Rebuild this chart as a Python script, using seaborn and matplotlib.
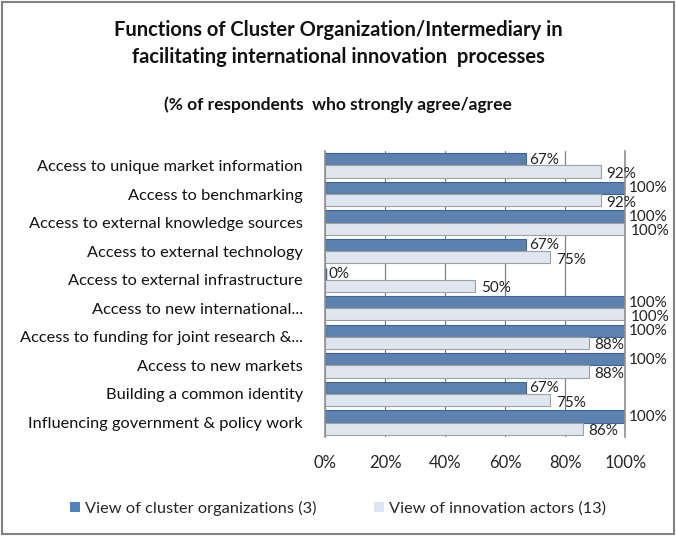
import matplotlib
matplotlib.use("Agg")
import matplotlib.pyplot as plt
import pandas as pd
import numpy as np
import seaborn as sns

# chart data
categories = ['Access to unique market information', 'Access to benchmarking',
              'Access to external knowledge sources', 'Access to external technology',
              'Access to external infrastructure', 'Access to new international...',
              'Access to funding for joint research &...', 'Access to new markets',
              'Building a common identity', 'Influencing government & policy work']
cluster_orgs = [67, 100, 100, 67, 0, 100, 100, 100, 67, 100]
innovation_actors = [92, 92, 100, 75, 50, 100, 88, 88, 75, 86]
series_names = ['View of cluster organizations (3)', 'View of innovation actors (13)']
x_ticks = [0, 20, 40, 60, 80, 100]

df = pd.DataFrame({'Function': categories * 2,
                   'Value': cluster_orgs + innovation_actors,
                   'Series': [series_names[0]] * len(categories) + [series_names[1]] * len(categories)})

sns.set_style("white")
plt.rcParams['font.family'] = ['Lato', 'DejaVu Sans']

fig = plt.figure(figsize=(6.76, 5.36), dpi=100)
ax = fig.add_axes([0.481, 0.185, 0.444, 0.533])

dark = '#4F81BD'
light = '#DCE6F2'
sns.barplot(data=df, y='Function', x='Value', hue='Series', order=categories,
            hue_order=series_names, palette=[dark, light], width=0.85,
            orient='h', ax=ax, legend=False)

# edge styling to mimic the flat 3D look
for i, bar in enumerate(ax.patches[:2 * len(categories)]):
    if i < len(categories):
        bar.set_edgecolor('#3A6595')
        if bar.get_width() == 0:
            bar.set_linewidth(2.5)
            continue
    else:
        bar.set_edgecolor('#A0A0A0')
    bar.set_linewidth(0.8)

# value labels
for j, v in enumerate(cluster_orgs):
    ax.text(v + 1.0, j - 0.2, f'{v}%', va='center', ha='left', fontsize=11, color='#222222')
for j, v in enumerate(innovation_actors):
    ax.text(v + 1.8, j + 0.3, f'{v}%', va='center', ha='left', fontsize=11, color='#222222')

ax.set_xlim(0, 100)
ax.set_ylim(len(categories) - 0.5, -0.5)
ax.set_xticks(x_ticks)
ax.set_xticklabels([f'{t}%' for t in x_ticks], fontsize=12)
ax.tick_params(axis='x', pad=13, length=0)
ax.tick_params(axis='y', pad=16, length=0, labelsize=11.8)
for lbl in ax.get_yticklabels():
    lbl.set_color('#111111')
ax.set_xlabel('')
ax.set_ylabel('')
ax.xaxis.grid(True, color='#808080', linewidth=0.9)
ax.set_axisbelow(True)
for side in ['top', 'bottom']:
    ax.spines[side].set_visible(False)
for side in ['left', 'right']:
    ax.spines[side].set_color('#909090')
    ax.spines[side].set_linewidth(1.2)

# titles
fig.text(0.5, 0.962, 'Functions of Cluster Organization/Intermediary in\nfacilitating international innovation  processes',
         ha='center', va='top', fontsize=14.5, fontweight='bold', linespacing=1.4, color='#111111')
fig.text(0.5, 0.805, '(% of respondents  who strongly agree/agree', ha='center', va='center',
         fontsize=12.5, fontweight='bold', color='#111111')

# legend
handles = [plt.Rectangle((0, 0), 1, 1, facecolor=dark, edgecolor='none'),
           plt.Rectangle((0, 0), 1, 1, facecolor=light, edgecolor='none')]
fig.legend(handles, series_names, loc='center', bbox_to_anchor=(0.5, 0.052), ncol=2,
           frameon=False, fontsize=11.8, handlelength=0.6, handleheight=0.6,
           handletextpad=0.3, columnspacing=3.5)

# outer border
fig.patches.append(plt.Rectangle((0.003, 0.004), 0.994, 0.992, transform=fig.transFigure,
                                 fill=False, edgecolor='#808080', linewidth=1.5))

fig.savefig('out.png', dpi=100)
